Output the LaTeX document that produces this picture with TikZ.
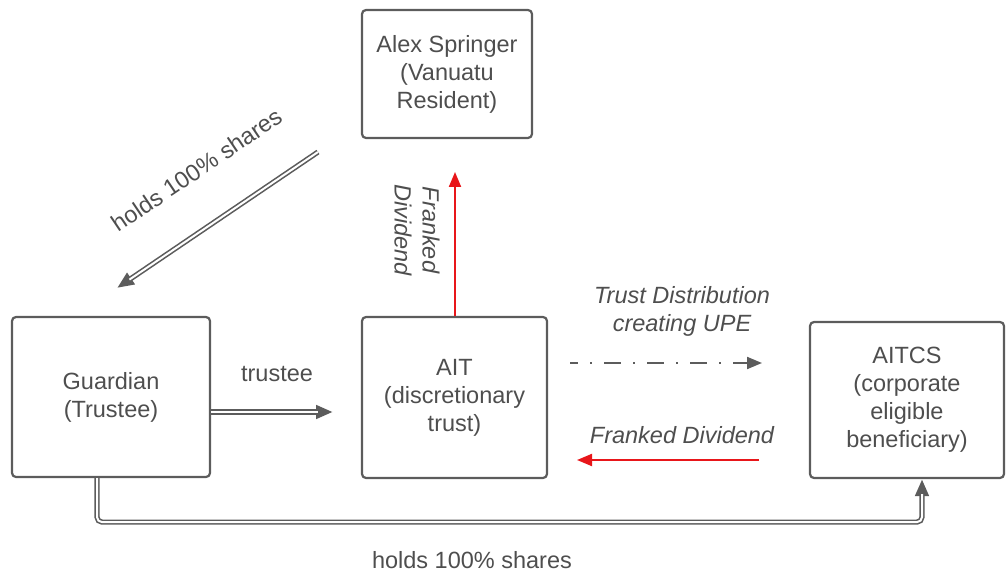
\documentclass[tikz,border=0pt]{standalone}
\usepackage{fontspec}
\setmainfont{Liberation Sans}
\usetikzlibrary{arrows.meta}
\definecolor{linec}{RGB}{92,92,92}
\definecolor{textc}{RGB}{78,78,78}
\definecolor{redc}{RGB}{232,22,26}
\tikzset{
  box/.style={draw=linec, line width=2.2pt, rounded corners=4pt, align=center,
    inner sep=0pt, text=textc, font=\fontsize{23.5}{28}\selectfont},
  lbl/.style={text=textc, align=center, inner sep=0pt, font=\fontsize{23.5}{28}\selectfont},
  ilbl/.style={lbl, font=\fontsize{23.5}{28}\selectfont\itshape},
  dbl/.style={draw=white, line width=2pt, shorten >=15pt,
    preaction={draw=linec, line width=5.2pt, shorten >=0pt,
      -{Triangle[length=17pt,width=13pt]}}},
  redarrow/.style={draw=redc, line width=2pt, -{Triangle[length=15pt,width=12pt]}},
  dasharrow/.style={draw=linec, line width=2pt, dash pattern=on 17pt off 12pt on 2pt off 12pt,
    dash phase=9pt, -{Triangle[length=15pt,width=12pt]}}
}
\begin{document}
\begin{tikzpicture}[x=1pt,y=-1pt]
\useasboundingbox (0,0) rectangle (1007,572);
% boxes
\node[box, minimum width=170pt, minimum height=128pt] (alex) at (447,74) {Alex Springer\\(Vanuatu\\Resident)};
\node[box, minimum width=198pt, minimum height=160pt] (g) at (111,397) {Guardian\\(Trustee)};
\node[box, minimum width=185pt, minimum height=161pt] (ait) at (454.5,397.5) {AIT\\(discretionary\\trust)};
\node[box, minimum width=194pt, minimum height=156pt] (cs) at (907,400) {AITCS\\(corporate\\eligible\\beneficiary)};
% free ends
\coordinate (d1) at (318,152);
\coordinate (d2) at (117,288);
\coordinate (rtop) at (455,172);
\coordinate (tend) at (333,412);
\coordinate (ds) at (570,363);
\coordinate (de) at (762,363);
\coordinate (rs) at (759,460);
\coordinate (re) at (577,460);
% connectors
\draw[dbl] (d1) -- (d2);
\draw[dbl] ([yshift=-15pt]g.east) -- (tend);
\draw[dbl, rounded corners=5pt] ([xshift=-14pt]g.south) -- ++(0,44) -| ([xshift=15pt]cs.south);
\draw[redarrow] (ait.north -| rtop) -- (rtop);
\draw[dasharrow] (ds) -- (de);
\draw[redarrow] (rs) -- (re);
% labels
\node[lbl, rotate=34] (l1) at (197,170) {holds 100\% shares};
\node[ilbl, rotate=-90] (l2) at (417,230) {Franked\\Dividend};
\node[lbl] (l3) at (277,374) {trustee};
\node[ilbl] (l4) at (682,311) {Trust Distribution\\creating UPE};
\node[ilbl] (l5) at (682,435) {Franked Dividend};
\node[lbl] (l6) at (472,560) {holds 100\% shares};
\end{tikzpicture}
\end{document}
